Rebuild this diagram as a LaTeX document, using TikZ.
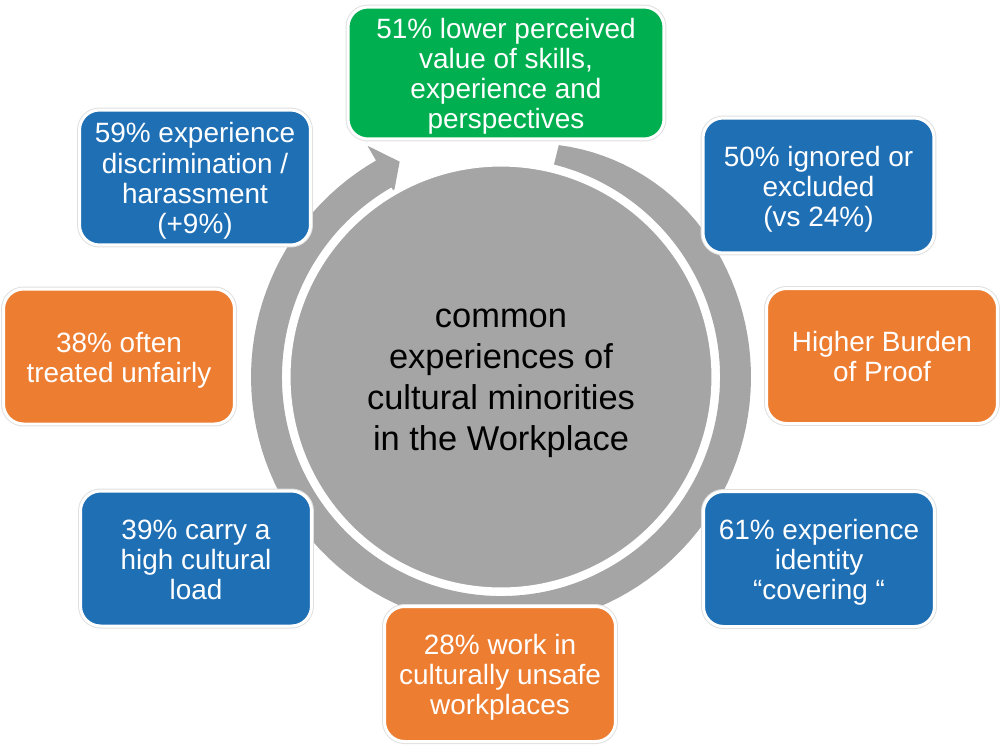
\documentclass[tikz,border=0pt]{standalone}
\usepackage{fontspec}
\setmainfont{Liberation Sans}
\usetikzlibrary{positioning}

\definecolor{factblue}{HTML}{1F6FB5}
\definecolor{factorange}{HTML}{ED7D31}
\definecolor{factgreen}{HTML}{00B050}
\definecolor{ringgray}{HTML}{A5A5A5}

\newcommand{\tops}[1]{\rule{0pt}{#1}}
\newcommand{\bots}[1]{\rule[-#1]{0pt}{0pt}}

\begin{document}
\begin{tikzpicture}[
    x=0.02cm, y=-0.02cm,
    fact/.style={draw=white, line width=0.06cm, rounded corners=0.4cm,
      preaction={draw=black!12, line width=0.1cm},
      minimum width=4.62cm, minimum height=2.7cm, inner sep=0pt,
      align=center, text=white, font=\fontsize{15.9}{17.1}\selectfont},
    bluefact/.style={fact, fill=factblue},
    orangefact/.style={fact, fill=factorange},
    greenfact/.style={fact, fill=factgreen, minimum width=6.32cm, minimum height=2.64cm},
    hub/.style={circle, fill=ringgray, draw=white, line width=0.1cm, minimum size=8.52cm,
      inner sep=0pt, align=center, font=\fontsize{19.6}{23.4}\selectfont},
    ring/.style={fill=ringgray}
  ]
    \useasboundingbox (0,0) rectangle (1000,745);

    \fill[ring, shift={(501,377)}]
      plot[domain=-76:240, samples=120] ({\x}:{250-11*max(0,1-(\x+76)/45)^2})
      -- (240:267) -- (244.8:238) -- (240:214) -- (240:219)
      arc[start angle=240, end angle=-76, radius=219] -- cycle;

    \node[hub] (hub) at (501,377) {\tops{18pt}common\\experiences of\\cultural minorities\\in the Workplace\bots{4.5pt}};

    \node[greenfact] (skills) at (506,73) {\tops{15.5pt}51\% lower perceived\\value of skills,\\experience and\\perspectives\bots{3.5pt}};
    \node[bluefact] (discr) at (195,177.5) {\tops{15.5pt}59\% experience\\discrimination /\\harassment\\(+9\%)\bots{3.5pt}};
    \node[bluefact] (ignored) at (818.5,185.5) {\tops{15.5pt}50\% ignored or\\excluded\\(vs 24\%)\bots{3.5pt}};
    \node[orangefact] (unfair) at (119,356.5) {\tops{15.5pt}38\% often\\treated unfairly\bots{3.5pt}};
    \node[orangefact] (burden) at (882,356) {\tops{15.5pt}Higher Burden\\of Proof\bots{3.5pt}};
    \node[bluefact] (load) at (196,558.5) {\tops{15.5pt}39\% carry a\\high cultural\\load\bots{3.5pt}};
    \node[bluefact] (covering) at (819,559) {\tops{15.5pt}61\% experience\\identity\\“covering “\bots{3.5pt}};
    \node[orangefact] (unsafe) at (500,674) {\tops{15.5pt}28\% work in\\culturally unsafe\\workplaces\bots{3.5pt}};
  \end{tikzpicture}
\end{document}
